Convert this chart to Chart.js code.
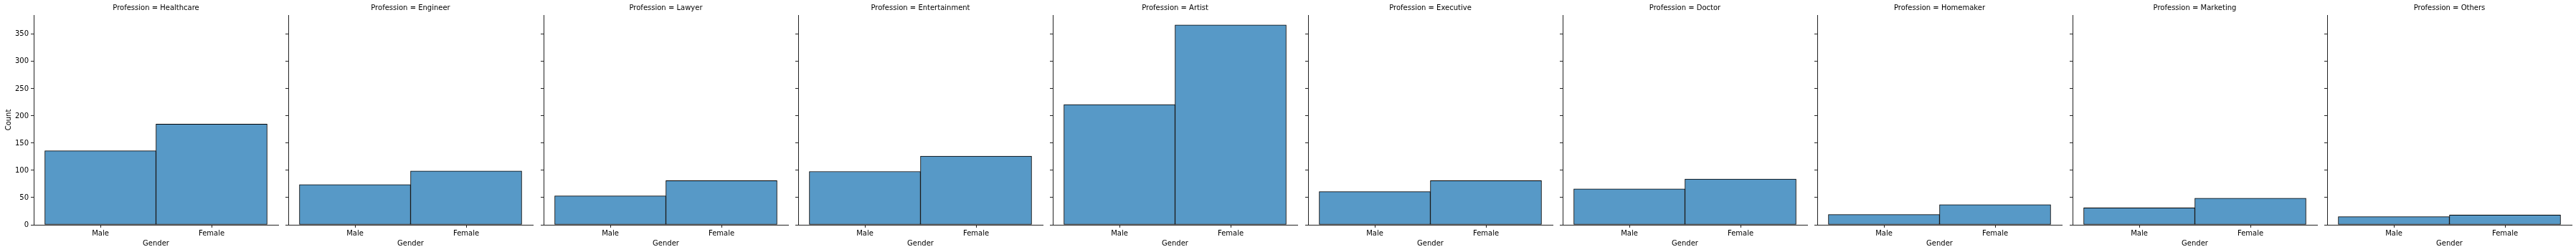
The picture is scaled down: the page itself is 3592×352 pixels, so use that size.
<!DOCTYPE html>
<html><head><meta charset="utf-8">
<script src="https://cdn.jsdelivr.net/npm/chart.js@4"></script>
<style>
html,body{margin:0;padding:0;background:#fff;}
#wrap{position:relative;width:3592px;height:352px;overflow:hidden;background:#fff;}
canvas{position:absolute;top:0;}
</style></head><body><div id="wrap"></div>
<script>
const professions = ['Healthcare','Engineer','Lawyer','Entertainment','Artist','Executive','Doctor','Homemaker','Marketing','Others'];
const genders = ['Male','Female'];
const genderTickValues = [0, 1];
const maleCounts = [136, 74, 53, 98, 221, 61, 66, 19, 31, 15];
const femaleCounts = [185, 99, 81, 126, 367, 81, 84, 37, 49, 18];
const yTicks = [0, 50, 100, 150, 200, 250, 300, 350];

Chart.defaults.font.family = "'DejaVu Sans', sans-serif";
Chart.defaults.font.size = 10;
Chart.defaults.color = '#000';

const barFill = '#5799c7';
const lineColor = '#222';
const wrap = document.getElementById('wrap');
const yMax = Math.max(...maleCounts, ...femaleCounts) * 1.05;

professions.forEach((p, i) => {
  const c = document.createElement('canvas');
  c.width = 400; c.height = 352;
  c.style.left = Math.round(355.33 * i) + 'px';
  c.style.width = '400px'; c.style.height = '352px';
  wrap.appendChild(c);
  const first = i === 0;
  const counts = [maleCounts[i], femaleCounts[i]];
  new Chart(c, {
    type: 'bar',
    data: {
      datasets: [{
        data: genders.map((g, k) => ({ x: genderTickValues[k], y: counts[k] })),
        backgroundColor: barFill,
        borderColor: '#000',
        borderWidth: 1,
        borderSkipped: false,
        barPercentage: 1,
        categoryPercentage: 1
      }]
    },
    options: {
      responsive: false,
      animation: false,
      devicePixelRatio: 1,
      layout: { padding: { left: 0, right: 12, top: 0, bottom: 0 } },
      plugins: {
        legend: { display: false },
        tooltip: { enabled: false },
        title: {
          display: true,
          text: 'Profession = ' + p,
          fullSize: false,
          font: { size: 10, weight: 'normal' },
          color: '#000',
          padding: { top: 5, bottom: 4 }
        }
      },
      scales: {
        x: {
          type: 'linear', min: -0.6, max: 1.6, offset: false,
          afterBuildTicks: s => { s.ticks = genderTickValues.map(v => ({ value: v })); },
          afterFit: s => { s.height = 38; },
          ticks: { callback: v => genders[v], maxRotation: 0, autoSkip: false, padding: 2, color: '#000' },
          grid: { drawOnChartArea: false, drawTicks: true, tickLength: 4, offset: false, color: lineColor, tickColor: lineColor, lineWidth: 1 },
          border: { display: true, color: lineColor, width: 1 },
          title: { display: true, text: 'Gender', padding: { top: 0, bottom: 6 }, color: '#000', font: { size: 10 } }
        },
        y: {
          type: 'linear', min: 0, max: yMax,
          afterBuildTicks: s => { s.ticks = yTicks.map(v => ({ value: v })); },
          afterFit: s => { s.width = 47; },
          ticks: { display: first, padding: 3, color: '#000' },
          grid: { drawOnChartArea: false, drawTicks: true, tickLength: 4, color: lineColor, tickColor: lineColor, lineWidth: 1 },
          border: { display: true, color: lineColor, width: 1 },
          title: { display: first, text: 'Count', padding: { top: 6, bottom: 0 }, color: '#000', font: { size: 10 } }
        }
      }
    }
  });
});
</script>
</body></html>
